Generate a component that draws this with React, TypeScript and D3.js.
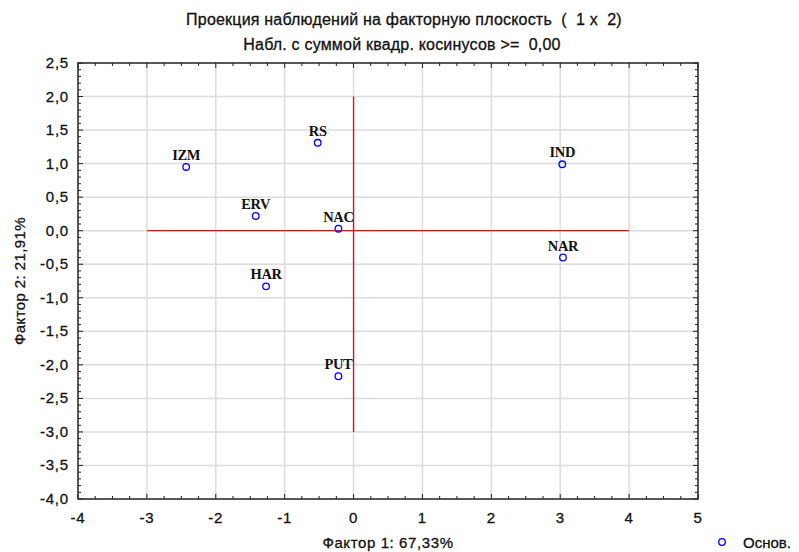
import React, { useEffect, useRef } from 'react';
import * as d3 from 'd3';

// observations projected on factor plane (1 x 2)
const labels = ['IZM', 'RS', 'IND', 'ERV', 'NAC', 'NAR', 'HAR', 'PUT'];
const factor1 = [-2.43, -0.52, 3.03, -1.42, -0.22, 3.04, -1.27, -0.22];
const factor2 = [0.95, 1.31, 0.99, 0.22, 0.03, -0.4, -0.83, -2.17];

const xTicks = [-4, -3, -2, -1, 0, 1, 2, 3, 4, 5];
const yTicks = [2.5, 2.0, 1.5, 1.0, 0.5, 0.0, -0.5, -1.0, -1.5, -2.0, -2.5, -3.0, -3.5, -4.0];

const titleLines = [
  'Проекция наблюдений на факторную плоскость \u00a0(\u00a0 1 x \u00a02)',
  'Набл. с суммой квадр. косинусов >= \u00a00,00',
];
const xTitle = 'Фактор 1: 67,33%';
const yTitle = 'Фактор 2: 21,91%';
const legendLabel = 'Основ.';

const W = 799;
const H = 552;
const margin = { left: 78, right: 101, top: 63, bottom: 53 };

const App = () => {
  const ref = useRef(null);

  useEffect(() => {
    const svg = d3.select(ref.current);
    svg.selectAll('*').remove();

    const x = d3.scaleLinear().domain([-4, 5]).range([margin.left, W - margin.right]);
    const y = d3.scaleLinear().domain([-4, 2.5]).range([H - margin.bottom, margin.top]);
    const fmt = (v) => d3.format('.1f')(v).replace('.', ',').replace('−', '-');
    const font = '"Liberation Sans", Arial, sans-serif';

    svg.append('rect')
      .attr('width', W).attr('height', H).attr('fill', '#fff');

    // grid
    const grid = svg.append('g').attr('stroke', '#dcdcdc').attr('stroke-width', 1.5);
    xTicks.slice(1, -1).forEach(t => {
      grid.append('line')
        .attr('x1', x(t)).attr('x2', x(t))
        .attr('y1', y(2.5)).attr('y2', y(-4));
    });
    yTicks.slice(1, -1).forEach(t => {
      grid.append('line')
        .attr('y1', y(t)).attr('y2', y(t))
        .attr('x1', x(-4)).attr('x2', x(5));
    });

    // red cross
    svg.append('line')
      .attr('x1', x(0)).attr('x2', x(0)).attr('y1', y(2)).attr('y2', y(-3))
      .attr('stroke', '#ff0000').attr('stroke-width', 1.3);
    svg.append('line')
      .attr('x1', x(-3)).attr('x2', x(4)).attr('y1', y(0)).attr('y2', y(0))
      .attr('stroke', '#ff0000').attr('stroke-width', 1.3);

    // frame + ticks
    const ax = svg.append('g').attr('stroke', '#222').attr('stroke-width', 1);
    ax.append('rect')
      .attr('x', x(-4)).attr('y', y(2.5))
      .attr('width', x(5) - x(-4)).attr('height', y(-4) - y(2.5))
      .attr('fill', 'none').attr('stroke-width', 1.5);
    d3.range(-4, 5.001, 0.25).forEach(t => {
      const len = Math.abs(t - Math.round(t)) < 1e-6 ? 5 : 3;
      ax.append('line').attr('x1', x(t)).attr('x2', x(t))
        .attr('y1', y(-4)).attr('y2', y(-4) - len);
      ax.append('line').attr('x1', x(t)).attr('x2', x(t))
        .attr('y1', y(2.5)).attr('y2', y(2.5) + len);
    });
    d3.range(-4, 2.501, 0.1).forEach(t => {
      const len = Math.abs(t * 2 - Math.round(t * 2)) < 1e-6 ? 5 : 3;
      ax.append('line').attr('y1', y(t)).attr('y2', y(t))
        .attr('x1', x(-4)).attr('x2', x(-4) + len);
      ax.append('line').attr('y1', y(t)).attr('y2', y(t))
        .attr('x1', x(5)).attr('x2', x(5) - len);
    });

    // tick labels
    const tl = svg.append('g')
      .attr('font-family', font).attr('font-size', 15).attr('fill', '#111')
      .attr('stroke', '#111').attr('stroke-width', 0.3)
      .attr('letter-spacing', 0.8);
    yTicks.forEach(t => {
      tl.append('text')
        .attr('x', x(-4) - 9).attr('y', y(t) + 5)
        .attr('text-anchor', 'end').text(fmt(t));
    });
    xTicks.forEach(t => {
      tl.append('text')
        .attr('x', x(t)).attr('y', y(-4) + 24)
        .attr('text-anchor', 'middle').text(String(t));
    });

    // titles
    const tt = svg.append('g').attr('font-family', font).attr('font-size', 15).attr('fill', '#111')
      .attr('stroke', '#111').attr('stroke-width', 0.3);
    tt.append('text').attr('x', 404).attr('y', 25).attr('text-anchor', 'middle')
      .attr('font-size', 16).attr('letter-spacing', 0.2).text(titleLines[0]);
    tt.append('text').attr('x', 402).attr('y', 50).attr('text-anchor', 'middle')
      .attr('font-size', 16).attr('letter-spacing', 0.2).text(titleLines[1]);
    tt.append('text').attr('x', (x(-4) + x(5)) / 2).attr('y', 548)
      .attr('text-anchor', 'middle').attr('letter-spacing', 0.6).text(xTitle);
    tt.append('text')
      .attr('transform', `translate(25,${(y(2.5) + y(-4)) / 2}) rotate(-90)`)
      .attr('text-anchor', 'middle').attr('letter-spacing', 0.4).text(yTitle);

    // points
    const pts = svg.append('g');
    labels.forEach((lab, i) => {
      pts.append('circle')
        .attr('cx', x(factor1[i])).attr('cy', y(factor2[i])).attr('r', 3.3)
        .attr('fill', 'none').attr('stroke', '#0000ff').attr('stroke-width', 1.3);
      pts.append('text')
        .attr('x', x(factor1[i])).attr('y', y(factor2[i]) - 7)
        .attr('text-anchor', 'middle')
        .attr('font-family', '"Liberation Serif", "Times New Roman", serif')
        .attr('font-weight', 'bold').attr('font-size', 14.5).attr('letter-spacing', -0.4)
        .attr('fill', '#111').text(lab);
    });

    // legend
    svg.append('circle').attr('cx', 722).attr('cy', 542).attr('r', 3.3)
      .attr('fill', 'none').attr('stroke', '#0000ff').attr('stroke-width', 1.3);
    svg.append('text').attr('x', 743).attr('y', 548)
      .attr('font-family', font).attr('font-size', 15).attr('fill', '#111')
      .attr('stroke', '#111').attr('stroke-width', 0.3).text(legendLabel);
  }, []);

  return (
    <svg ref={ref} width={W} height={H} style={{ position: 'absolute', left: 0, top: 0 }} />
  );
};

export default App;
